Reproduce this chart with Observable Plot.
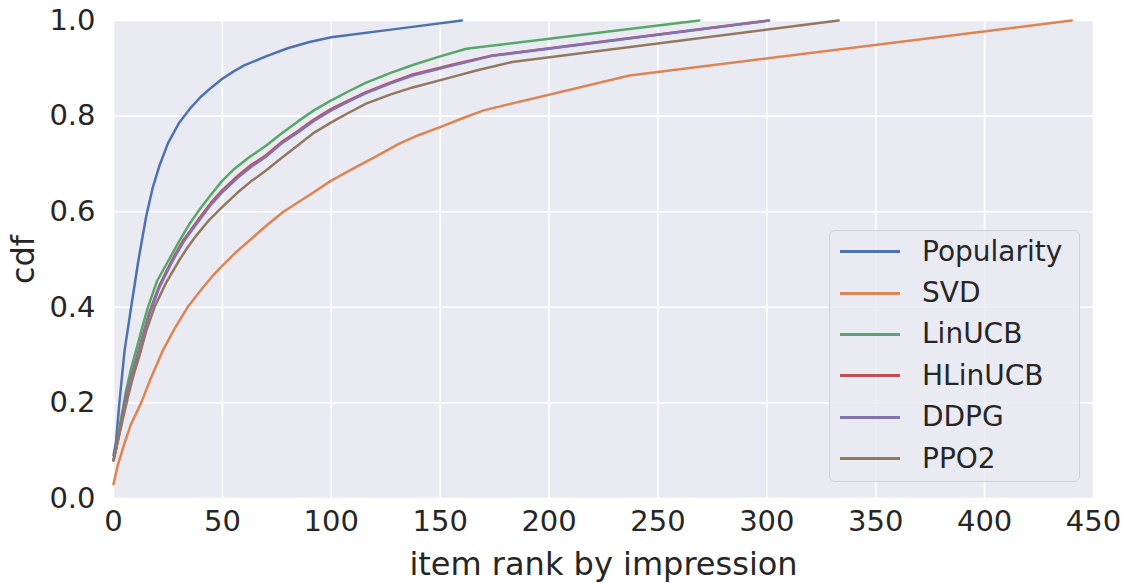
<!DOCTYPE html>
<html>
<head>
<meta charset="utf-8">
<script src="https://cdn.jsdelivr.net/npm/d3@7"></script>
<script src="https://cdn.jsdelivr.net/npm/@observablehq/plot@0.6"></script>
<style>
  body { margin: 0; background: white; }
  #wrap { position: relative; width: 1136px; height: 583px; font-family: "DejaVu Sans", sans-serif; }
  #legend { position: absolute; left: 829px; top: 230px; width: 251px; height: 252px;
    border: 1px solid #d0d0d8; border-radius: 6px; background: rgba(234,234,242,0.85);
    box-sizing: border-box; padding-top: 0px; }
  .row { height: 41.4px; display: flex; align-items: center; }
  .sw { width: 60px; height: 3px; margin-left: 10px; margin-right: 22px; }
  .lab { font-size: 28px; color: #262626; line-height: 1; }
</style>
</head>
<body>
<div id="wrap"><div id="legend"></div></div>
<script>
const seriesNames = ["Popularity", "SVD", "LinUCB", "HLinUCB", "DDPG", "PPO2"];
const seriesColors = ["#4c72b0", "#dd8452", "#55a868", "#c44e52", "#8172b3", "#937860"];

const popX = [0, 1.2, 2.8, 5.1, 8.1, 11.5, 15, 18, 21, 25, 30, 35, 40, 45, 50, 55, 60, 70, 80, 90, 100, 131, 160];
const popY = [0.09, 0.12, 0.205, 0.31, 0.40, 0.50, 0.59, 0.65, 0.695, 0.743, 0.785, 0.815, 0.84, 0.86, 0.878, 0.893, 0.906, 0.925, 0.942, 0.955, 0.965, 0.983, 1.0];

const svdX = [0, 0.5, 2, 5, 8, 12.7, 17, 22.7, 28, 34, 40, 45, 50, 56, 62.5, 70, 78, 90, 100, 110, 120, 131, 140, 150, 160, 170, 237, 440];
const svdY = [0.03, 0.04, 0.07, 0.115, 0.155, 0.20, 0.25, 0.31, 0.355, 0.40, 0.435, 0.463, 0.487, 0.514, 0.54, 0.57, 0.60, 0.635, 0.665, 0.69, 0.714, 0.742, 0.76, 0.777, 0.795, 0.812, 0.885, 1.0];

const linX = [0, 1, 2.8, 5.8, 8, 10.4, 13, 15.8, 20, 25.5, 30.4, 35, 39.6, 45, 50, 55.6, 62, 70, 77, 85, 92, 100, 108, 116, 127, 137.4, 150, 162, 269];
const linY = [0.08, 0.10, 0.15, 0.226, 0.27, 0.31, 0.355, 0.40, 0.455, 0.50, 0.54, 0.575, 0.605, 0.637, 0.665, 0.69, 0.713, 0.738, 0.763, 0.79, 0.812, 0.833, 0.852, 0.87, 0.89, 0.907, 0.925, 0.941, 1.0];

const hlinX = [0, 1, 3, 6, 8.5, 11, 14, 16.5, 21, 27, 32, 36, 40, 45, 50, 57, 63, 70, 77, 85, 92, 100, 108, 116, 127, 137.4, 155, 174, 301];
const hlinY = [0.08, 0.10, 0.145, 0.22, 0.26, 0.30, 0.35, 0.39, 0.445, 0.50, 0.54, 0.565, 0.59, 0.62, 0.645, 0.675, 0.697, 0.718, 0.745, 0.77, 0.793, 0.815, 0.833, 0.85, 0.87, 0.887, 0.907, 0.927, 1.0];

const ddpgX = [0, 1, 3, 6, 8.5, 11, 14, 16.5, 21, 27, 32, 36, 40, 45, 50, 57, 63, 70, 77, 85, 92, 100, 108, 116, 127, 137.4, 155, 174, 301];
const ddpgY = [0.08, 0.10, 0.143, 0.217, 0.257, 0.297, 0.346, 0.386, 0.441, 0.496, 0.536, 0.561, 0.586, 0.616, 0.641, 0.671, 0.693, 0.715, 0.742, 0.767, 0.79, 0.812, 0.831, 0.848, 0.868, 0.885, 0.905, 0.926, 1.0];

const ppoX = [0, 1, 3, 6.5, 9, 12, 15, 18.8, 24, 30.4, 34, 38, 44, 50, 57, 63, 70, 77, 85, 92, 100, 108, 116, 127, 137.4, 154, 168, 183, 333];
const ppoY = [0.08, 0.10, 0.14, 0.21, 0.255, 0.30, 0.35, 0.40, 0.45, 0.50, 0.525, 0.55, 0.583, 0.61, 0.64, 0.663, 0.686, 0.712, 0.74, 0.765, 0.787, 0.807, 0.826, 0.845, 0.86, 0.88, 0.897, 0.913, 1.0];

const xTicks = [0, 50, 100, 150, 200, 250, 300, 350, 400, 450];
const yTicks = [0, 0.2, 0.4, 0.6, 0.8, 1.0];
const xLabel = "item rank by impression";
const yLabel = "cdf";

const seriesXs = [popX, svdX, linX, hlinX, ddpgX, ppoX];
const seriesYs = [popY, svdY, linY, hlinY, ddpgY, ppoY];
const rows = seriesNames.flatMap((name, i) =>
  seriesXs[i].map((x, j) => ({series: name, x, y: seriesYs[i][j]})));

const chart = Plot.plot({
  width: 1136,
  height: 583,
  marginLeft: 113,
  marginRight: 43,
  marginTop: 20,
  marginBottom: 85,
  style: {fontFamily: "DejaVu Sans", fontSize: "29px", color: "#262626", background: "white", overflow: "visible"},
  x: {domain: [0, 450]},
  y: {domain: [0, 1]},
  color: {domain: seriesNames, range: seriesColors},
  marks: [
    Plot.frame({fill: "#eaeaf2", stroke: null}),
    Plot.gridX(xTicks, {stroke: "white", strokeOpacity: 1, strokeWidth: 1.6}),
    Plot.gridY(yTicks, {stroke: "white", strokeOpacity: 1, strokeWidth: 1.6}),
    Plot.line(rows, {x: "x", y: "y", z: "series", stroke: "series", strokeWidth: 2.5, curve: "linear"}),
    Plot.axisX(xTicks, {tickSize: 0, tickPadding: 12, fontSize: 29, label: null}),
    Plot.axisX([], {tickSize: 0, fontSize: 32, label: xLabel, labelAnchor: "center", labelArrow: "none", labelOffset: 76}),
    Plot.axisY(yTicks, {tickSize: 0, tickPadding: 18, fontSize: 29, tickFormat: d3.format(".1f"), label: null}),
    Plot.axisY([], {tickSize: 0, fontSize: 32, label: yLabel, labelAnchor: "center", labelArrow: "none", labelOffset: 102})
  ]
});
document.getElementById("wrap").prepend(chart);

const legend = document.getElementById("legend");
seriesNames.forEach((name, i) => {
  const row = document.createElement("div");
  row.className = "row";
  const sw = document.createElement("div");
  sw.className = "sw";
  sw.style.background = seriesColors[i];
  const lab = document.createElement("span");
  lab.className = "lab";
  lab.textContent = name;
  row.appendChild(sw);
  row.appendChild(lab);
  legend.appendChild(row);
});
</script>
</body>
</html>
